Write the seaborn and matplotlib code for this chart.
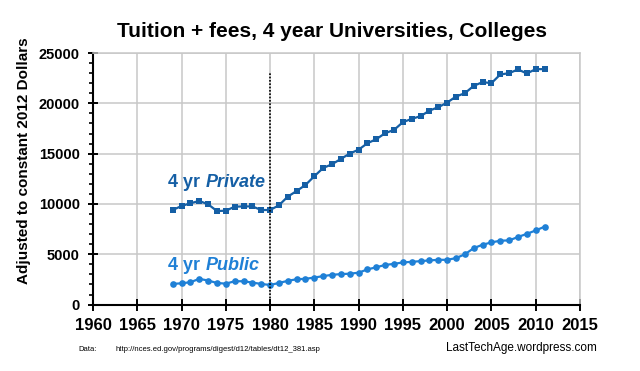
import pandas as pd
import seaborn as sns
import matplotlib.pyplot as plt
from matplotlib.ticker import MultipleLocator

sns.set_style("whitegrid")
plt.rcParams["font.family"] = ["Liberation Sans", "DejaVu Sans"]
plt.rcParams["font.weight"] = "bold"
plt.rcParams["text.color"] = "black"
plt.rcParams["axes.labelcolor"] = "black"
plt.rcParams["axes.labelweight"] = "bold"
plt.rcParams["xtick.color"] = "black"
plt.rcParams["ytick.color"] = "black"

YEARS = list(range(1969, 2012))

PRIVATE = [9400, 9800, 10070, 10300, 9970, 9300, 9330, 9730, 9760, 9760,
           9400, 9400, 9870, 10730, 11290, 11890, 12760, 13580, 13950, 14480,
           15010, 15400, 16040, 16440, 17040, 17360, 18130, 18460, 18730, 19280,
           19620, 20080, 20680, 21010, 21740, 22110, 22010, 22870, 23000, 23370,
           22970, 23400, 23400]

PUBLIC = [2050, 2120, 2220, 2560, 2390, 2150, 2080, 2320, 2320, 2190,
          2050, 1950, 2150, 2360, 2520, 2560, 2690, 2830, 2960, 3030,
          3070, 3170, 3500, 3710, 3940, 4050, 4190, 4250, 4320, 4390,
          4450, 4450, 4620, 5000, 5610, 5950, 6180, 6350, 6380, 6720,
          7030, 7370, 7740]

PRIVATE_COLOR = "#155fa5"
PUBLIC_COLOR = "#1f80d6"

df = pd.DataFrame({"year": YEARS, "private": PRIVATE, "public": PUBLIC})

fig = plt.figure(figsize=(6.4, 3.71), dpi=100)
ax = fig.add_axes([0.1453, 0.179, 0.7609, 0.678])

sns.lineplot(data=df, x="year", y="private", ax=ax, color=PRIVATE_COLOR,
             marker="s", markersize=4.8, markeredgewidth=0, linewidth=1.6)
sns.lineplot(data=df, x="year", y="public", ax=ax, color=PUBLIC_COLOR,
             marker="o", markersize=4.8, markeredgewidth=0, linewidth=1.6)

# 1980 divider
ax.plot([1980, 1980], [0, 23100], color="black", linestyle=(0, (1, 1)), linewidth=1.2)

ax.set_xlim(1960, 2015)
ax.set_ylim(0, 25000)
ax.xaxis.set_major_locator(MultipleLocator(5))
ax.yaxis.set_major_locator(MultipleLocator(5000))
ax.yaxis.set_minor_locator(MultipleLocator(1000))

ax.grid(True, which="major", color="#c8c8c8", linewidth=1.1)
ax.grid(False, which="minor")
ax.set_axisbelow(True)

for side in ("top", "right"):
    ax.spines[side].set_color("#c8c8c8")
    ax.spines[side].set_linewidth(1.1)
for side in ("left", "bottom"):
    ax.spines[side].set_color("black")
    ax.spines[side].set_linewidth(1.5)

ax.tick_params(axis="x", which="major", direction="inout", length=8, width=1.4,
               labelsize=12, pad=6, bottom=True)
ax.tick_params(axis="y", which="major", direction="inout", length=7, width=1.4,
               labelsize=10.5, pad=6, left=True)
ax.tick_params(axis="y", which="minor", direction="out", length=3, width=1.2,
               left=True)

ax.set_xlabel("")
ax.set_ylabel("Adjusted to constant 2012 Dollars", fontsize=11)
ax.yaxis.set_label_coords(-0.127, 0.573)

# series labels
t1 = ax.text(1968.5, 11700, "4 yr ", color=PRIVATE_COLOR, fontsize=13,
             va="baseline")
ax.annotate("Private", xy=(1, 0), xycoords=t1, va="bottom", color=PRIVATE_COLOR,
            fontsize=13, fontstyle="italic")
t2 = ax.text(1968.5, 3430, "4 yr ", color=PUBLIC_COLOR, fontsize=13,
             va="baseline")
ax.annotate("Public", xy=(1, 0), xycoords=t2, va="bottom", color=PUBLIC_COLOR,
            fontsize=13, fontstyle="italic")

fig.text(0.519, 0.914, "Tuition + fees, 4 year Universities, Colleges",
         ha="center", va="center", fontsize=15)
fig.text(0.123, 0.058, "Data:", fontsize=5.5, va="center", fontweight="normal")
fig.text(0.18, 0.058, "http://nces.ed.gov/programs/digest/d12/tables/dt12_381.asp",
         fontsize=5.5, va="center", fontweight="normal")
fig.text(0.933, 0.062, "LastTechAge.wordpress.com", fontsize=8.5, ha="right",
         va="center", fontweight="normal")

fig.savefig("out.png", dpi=100)
